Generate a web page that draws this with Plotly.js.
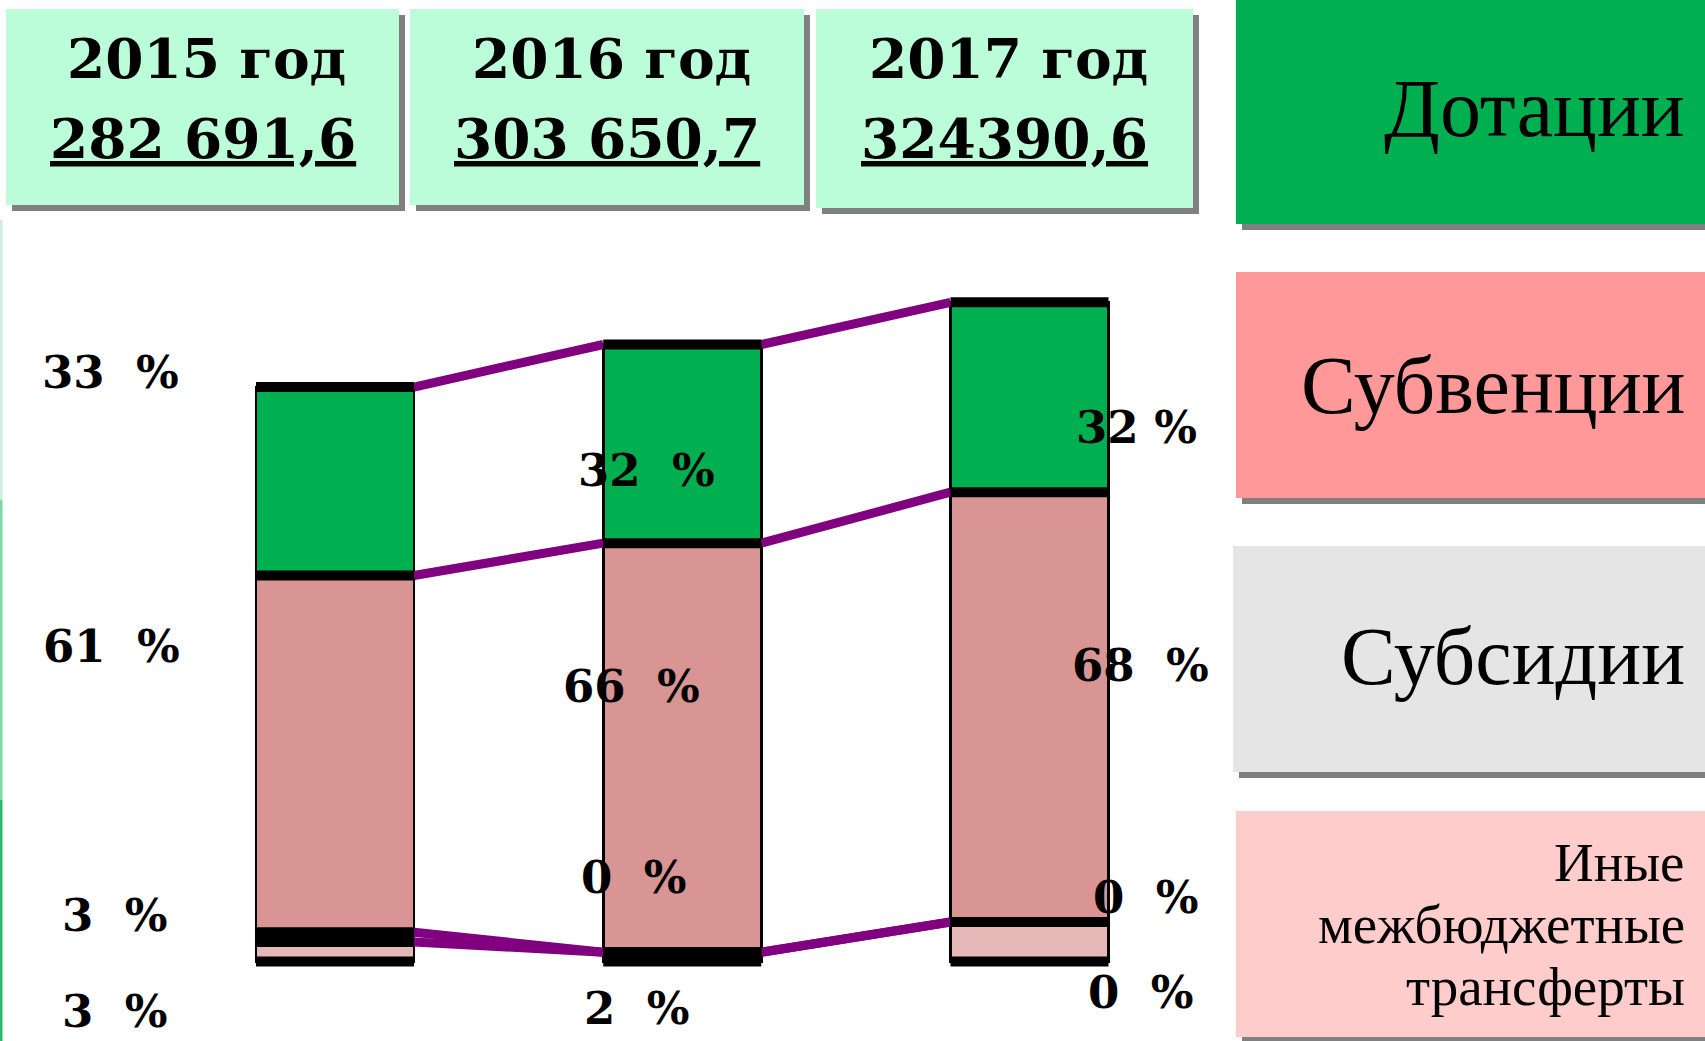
<!DOCTYPE html>
<html>
<head>
<meta charset="utf-8">
<script src="https://cdn.plot.ly/plotly-3.0.1.min.js"></script>
<style>
  html, body { margin: 0; padding: 0; background: #ffffff; }
  #chart { width: 1705px; height: 1041px; }
</style>
</head>
<body>
<div id="chart"></div>
<script>
// years and totals (thousand rubles)
const years = ['2015 год', '2016 год', '2017 год'];
const totals = [282691.6, 303650.7, 324390.6];
const totalLabels = ['282 691,6', '303 650,7', '324390,6'];

// legend categories
const categories = ['Дотации', 'Субвенции', 'Субсидии', 'Иные межбюджетные трансферты'];

// shares of each bar in % (bottom to top: other, subsidies, subventions, dotations)
const otherShare = [3.4, 1.5, 6.0];
const subsShare = [1.7, 0, 0];
const subvShare = [62.1, 66.3, 65.2];
const dotShare = [32.8, 32.2, 28.8];

// printed percent labels
const dotLabels = ['33  %', '32  %', '32 %'];
const subvLabels = ['61  %', '66  %', '68  %'];
const subsLabels = ['3  %', '0  %', '0  %'];
const otherLabels = ['3  %', '2  %', '0  %'];

const W = 1705, H = 1041;
const px = x => x / W;
const py = y => 1 - y / H;

const colors = {
  dot: '#00b050',
  subv: '#d99594',
  subs: '#e5e5e5',
  other: '#e6b8b7',
  legDot: '#00b050',
  legSubv: '#ff9999',
  legSubs: '#e5e5e5',
  legOther: '#ffcccc',
  header: '#bbfdd9',
  shadow: '#808080',
  link: '#800080'
};

const xs = years.map((_, i) => i);
const barW = 0.455;
const val = share => totals.map((t, i) => t * share[i] / 100);

const otherV = val(otherShare);
const subsV = val(subsShare);
const subvV = val(subvShare);
const dotV = val(dotShare);

function barTrace(y, color) {
  return {
    type: 'bar', x: xs, y: y, width: barW,
    marker: { color: color, line: { color: '#000', width: 2.5 } },
    hoverinfo: 'skip'
  };
}

// cumulative boundaries per bar
const bounds = xs.map(i => {
  const b1 = otherV[i];
  const b2 = b1 + subsV[i];
  const b3 = b2 + subvV[i];
  const b4 = b3 + dotV[i];
  return [0, b1, b2, b3, b4];
});

// purple series lines between neighbouring bars
const linkX = [], linkY = [];
for (let i = 0; i < xs.length - 1; i++) {
  for (let k = 1; k < 5; k++) {
    linkX.push(i + barW / 2, i + 1 - barW / 2, null);
    linkY.push(bounds[i][k], bounds[i + 1][k], null);
  }
}

// thick black bands on every segment edge
const bandX = [], bandY = [];
xs.forEach(i => {
  bounds[i].forEach(b => {
    bandX.push(i - barW / 2, i + barW / 2, null);
    bandY.push(b, b, null);
  });
});

const data = [
  barTrace(otherV, colors.other),
  barTrace(subsV, colors.subs),
  barTrace(subvV, colors.subv),
  barTrace(dotV, colors.dot),
  { type: 'scatter', mode: 'lines', x: linkX, y: linkY,
    line: { color: colors.link, width: 9 }, hoverinfo: 'skip' },
  { type: 'scatter', mode: 'lines', x: bandX, y: bandY,
    line: { color: '#000', width: 10 }, hoverinfo: 'skip' }
];

// axis scaling so the bars sit where they do on the slide
const k = 617 / totals[1];          // px per thousand rubles
const baseY = 961.5;                 // baseline pixel
const x0px = 335, xStep = 347.25;   // first bar centre, bar spacing

const shapes = [];
const annotations = [];

function box(x1, y1, x2, y2, fill) {
  shapes.push({ type: 'rect', xref: 'paper', yref: 'paper',
    x0: px(x1 + 6), x1: px(x2 + 6), y0: py(y2 + 6), y1: py(y1 + 6),
    fillcolor: colors.shadow, line: { width: 0 } });
  shapes.push({ type: 'rect', xref: 'paper', yref: 'paper',
    x0: px(x1), x1: px(x2), y0: py(y2), y1: py(y1),
    fillcolor: fill, line: { width: 0 } });
}

// header boxes
const headBoxes = [[6, 9, 399, 205], [410, 9, 804, 205], [816, 9, 1193, 208]];
const boldFont = { family: "Georgia, 'DejaVu Serif', serif", size: 55, color: '#000', weight: 'bold' };
headBoxes.forEach((b, i) => {
  box(b[0], b[1], b[2], b[3], colors.header);
  const cx = (b[0] + b[2]) / 2;
  annotations.push({ xref: 'paper', yref: 'paper', x: px(cx + 4), y: py(59),
    text: years[i], showarrow: false, xanchor: 'center', yanchor: 'middle', font: boldFont });
  annotations.push({ xref: 'paper', yref: 'paper', x: px(cx), y: py(138),
    text: '<u>' + totalLabels[i] + '</u>', showarrow: false, xanchor: 'center', yanchor: 'middle', font: boldFont });
});

// legend boxes on the right
const legBoxes = [[1236, 0, 1720, 224], [1236, 272, 1720, 498], [1233, 546, 1720, 772], [1236, 811, 1720, 1037]];
const legFills = [colors.legDot, colors.legSubv, colors.legSubs, colors.legOther];
const serif = "Georgia, 'Liberation Serif', serif";
legBoxes.forEach((b, i) => box(b[0], b[1], b[2], b[3], legFills[i]));

// single-line legend labels
const legTextY = [109, 386, 656];
legTextY.forEach((y, i) => {
  annotations.push({ xref: 'paper', yref: 'paper', x: px(1687), y: py(y),
    text: categories[i], showarrow: false, xanchor: 'right', yanchor: 'middle',
    font: { family: serif, size: 82, color: '#000' } });
});
// last label goes on three lines
const otherLines = categories[3].split(' ');
const otherLineY = [862, 924, 986];
otherLines.forEach((t, j) => {
  annotations.push({ xref: 'paper', yref: 'paper', x: px(1687), y: py(otherLineY[j]),
    text: t, showarrow: false, xanchor: 'right', yanchor: 'middle',
    font: { family: serif, size: 55, color: '#000' } });
});

// thin green rule on the left edge
[[220, 500, 'rgba(0,176,80,0.2)'], [500, 800, 'rgba(0,176,80,0.5)'], [800, 1041, 'rgba(0,176,80,0.85)']].forEach(s => {
  shapes.push({ type: 'line', xref: 'paper', yref: 'paper', x0: px(1), x1: px(1),
    y0: py(s[0]), y1: py(s[1]), line: { color: s[2], width: 3 } });
});

// percent labels, one column per year
const labelFont = { family: "Georgia, 'DejaVu Serif', serif", size: 45, color: '#000', weight: 'bold' };
const rowY = [
  [372, 470, 428],   // dotations
  [646, 686, 665],   // subventions
  [915, 877, 897],   // subsidies
  [1011, 1008, 992]  // other
];
const colXs = [
  [110, 646, 1136],
  [111, 631, 1140],
  [115, 633, 1145],
  [115, 636, 1140]
];
[dotLabels, subvLabels, subsLabels, otherLabels].forEach((labels, r) => {
  labels.forEach((t, c) => {
    annotations.push({ xref: 'paper', yref: 'paper', x: px(colXs[r][c]), y: py(rowY[r][c]),
      text: t, showarrow: false, xanchor: 'center', yanchor: 'middle', font: labelFont });
  });
});

const layout = {
  width: W, height: H,
  margin: { l: 0, r: 0, t: 0, b: 0 },
  paper_bgcolor: '#ffffff',
  plot_bgcolor: 'rgba(0,0,0,0)',
  showlegend: false,
  barmode: 'stack',
  xaxis: { range: [-x0px / xStep, (W - x0px) / xStep], visible: false, fixedrange: true },
  yaxis: { range: [-(H - baseY) / k, baseY / k], visible: false, fixedrange: true },
  shapes: shapes,
  annotations: annotations
};

Plotly.newPlot('chart', data, layout, { staticPlot: true });
</script>
</body>
</html>
